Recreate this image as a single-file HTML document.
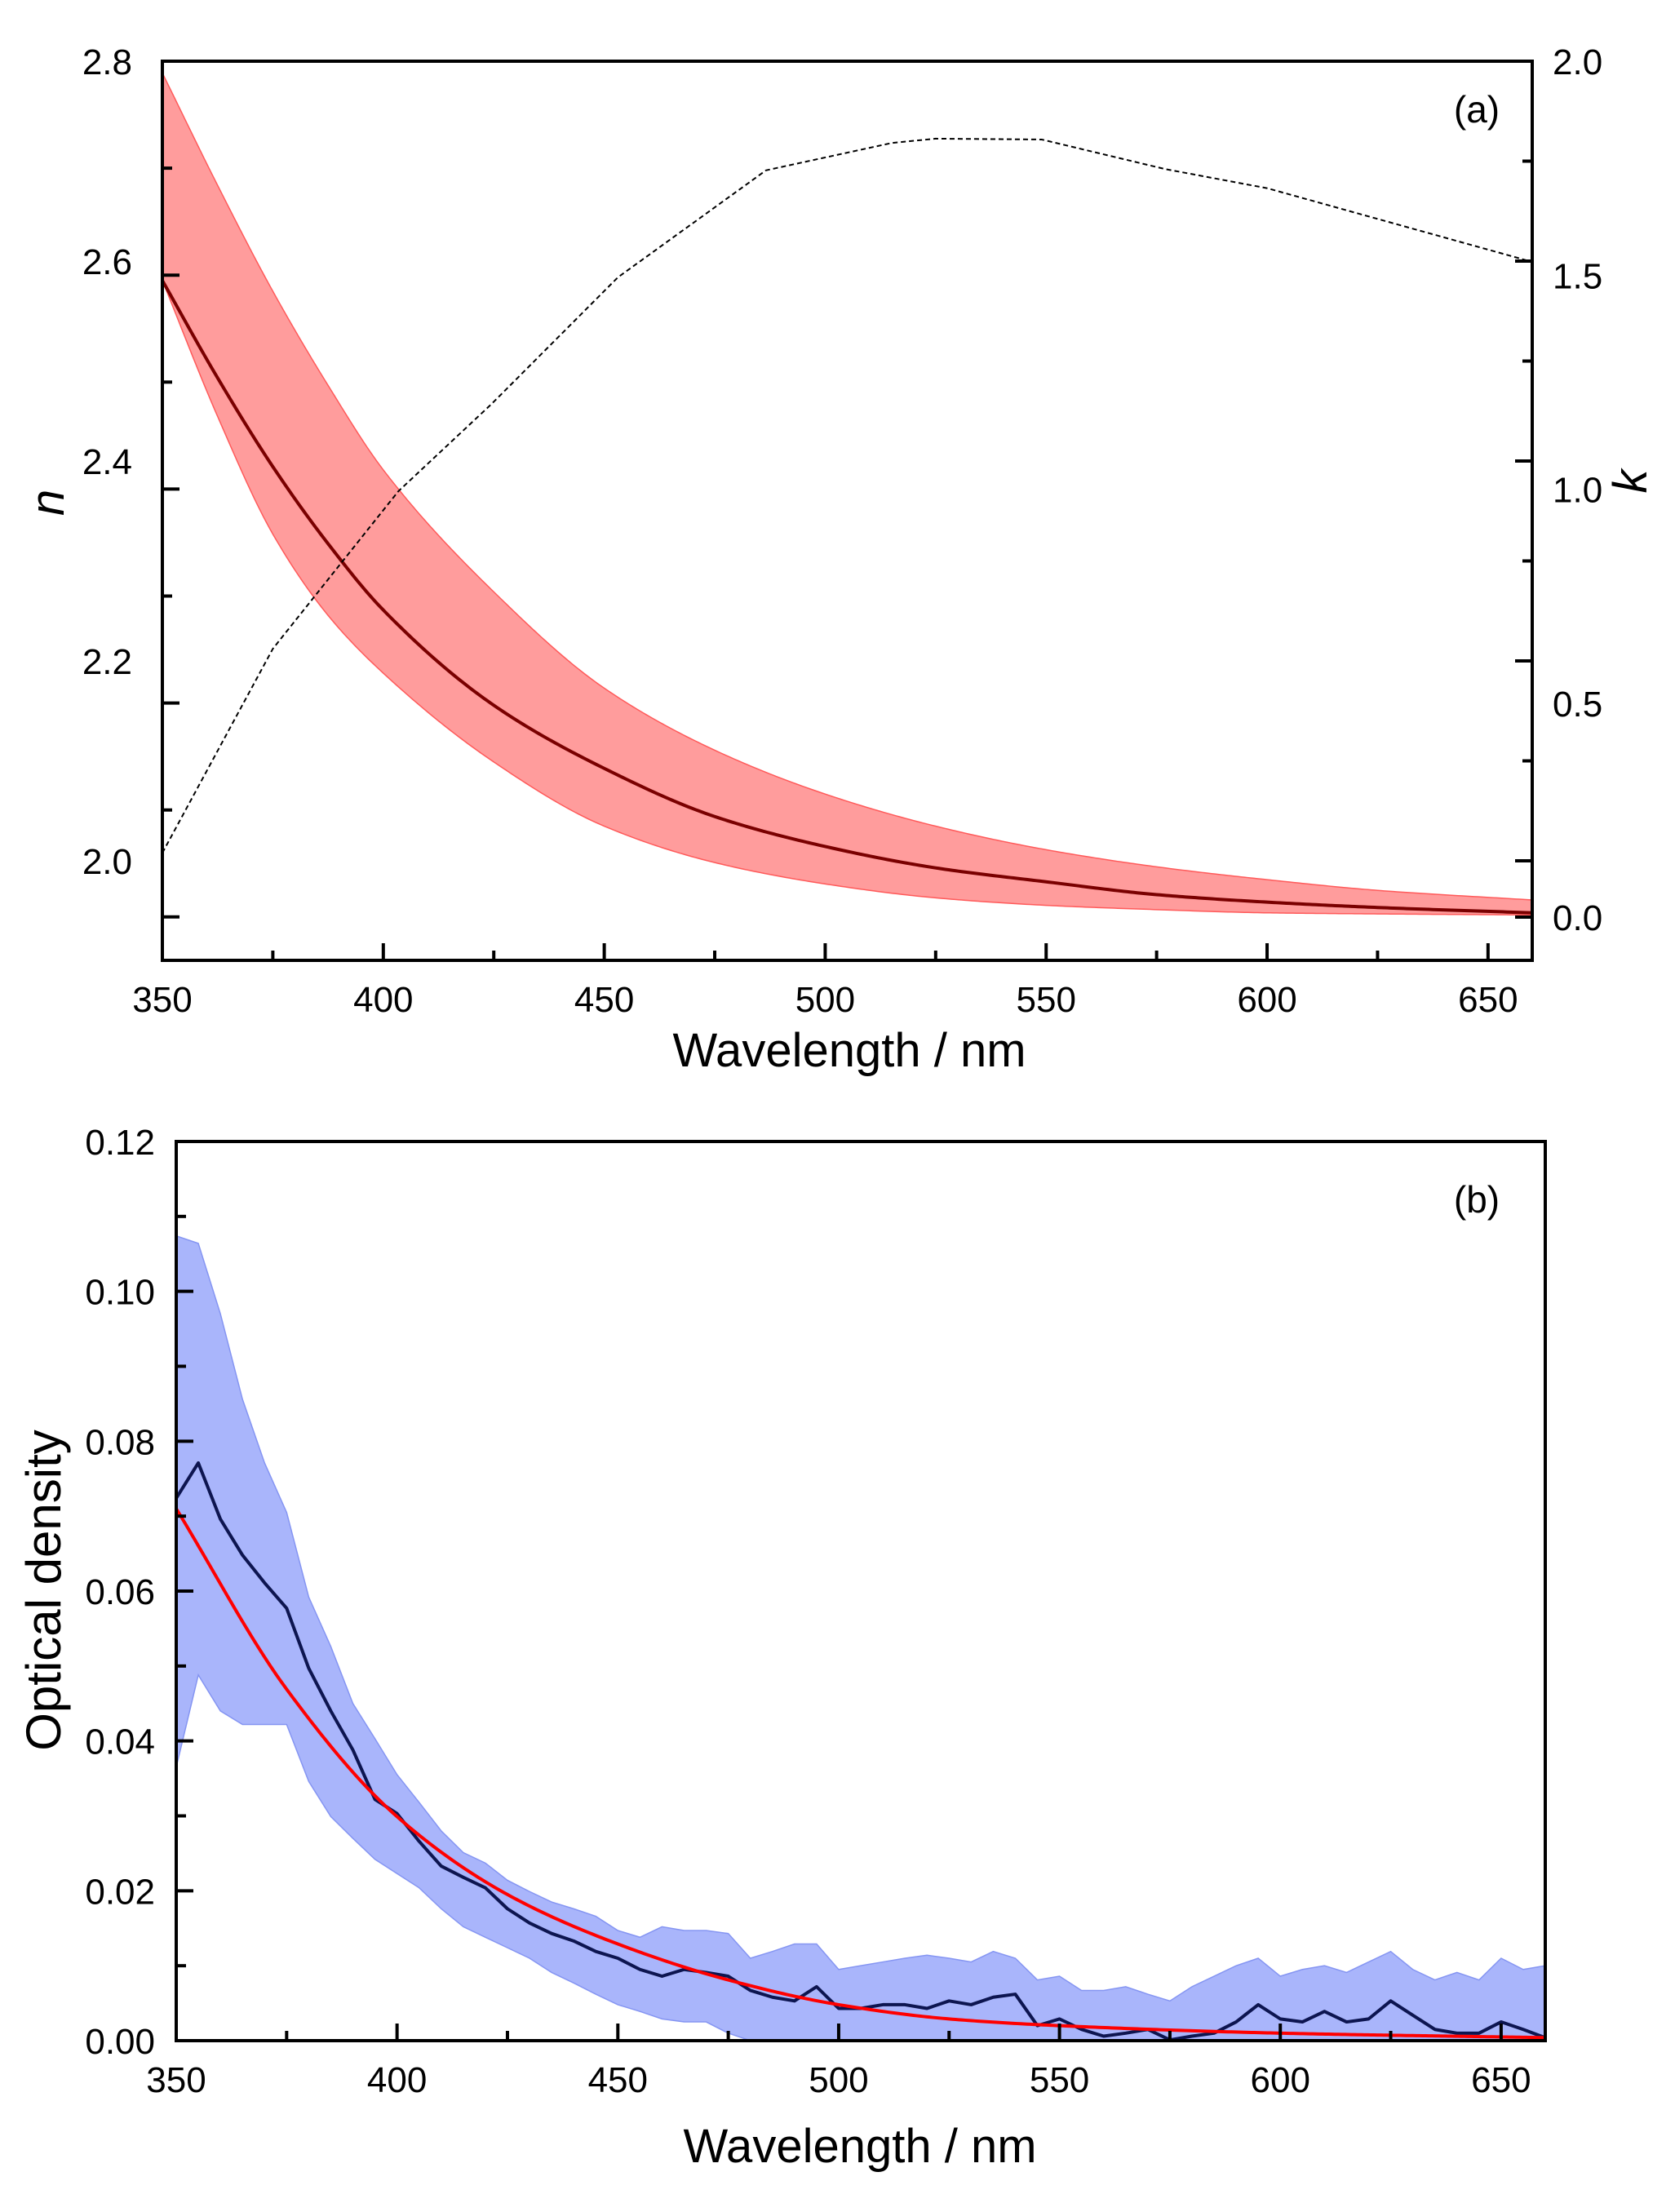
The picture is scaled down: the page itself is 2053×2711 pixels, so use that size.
<!DOCTYPE html>
<html><head><meta charset="utf-8">
<style>
html,body{margin:0;padding:0;background:#fff;}
svg{display:block;}
text{font-family:"Liberation Sans",Arial,sans-serif;fill:#000;}
</style></head>
<body>
<svg id="fig" width="2053" height="2711" viewBox="0 0 2053 2711" xmlns="http://www.w3.org/2000/svg">
<g id="panelA"></g>
<g id="panelB"></g>
</svg>
<script>
// ---------- Panel (a) data ----------
const aWl = [350,362.5,375,387.5,400,425,450,475,500,525,550,575,600,625,660];
const nCenter = [2.595,2.504,2.421,2.349,2.287,2.198,2.139,2.094,2.066,2.046,2.033,2.021,2.014,2.009,2.004];
const nUpper  = [2.789,2.684,2.585,2.497,2.418,2.304,2.214,2.156,2.115,2.085,2.063,2.047,2.035,2.025,2.016];
const nLower  = [2.595,2.468,2.358,2.282,2.228,2.145,2.085,2.051,2.031,2.018,2.011,2.007,2.004,2.003,2.002];
const kWl = [350,375,403.4,424.5,453.1,486.6,515.1,525,549,576.9,600.1,660];
const kVals = [0.150,0.627,0.995,1.199,1.495,1.745,1.809,1.819,1.817,1.748,1.703,1.531];
const xTickLabels = ["350","400","450","500","550","600","650"];
const nTickLabels = ["2.8","2.6","2.4","2.2","2.0"];
const kTickLabels = ["2.0","1.5","1.0","0.5","0.0"];
// ---------- Panel (b) data ----------
const bWl = [350,355,360,365,370,375,380,385,390,395,400,405,410,415,420,425,430,435,440,445,450,455,460,465,470,475,480,485,490,495,500,505,510,515,520,525,530,535,540,545,550,555,560,565,570,575,580,585,590,595,600,605,610,615,620,625,630,635,640,645,650,655,660];
const odMeasured = [0.0724,0.0771,0.0696,0.0648,0.0611,0.0577,0.0497,0.0440,0.0388,0.0322,0.0303,0.0266,0.0233,0.0218,0.0204,0.0176,0.0157,0.0143,0.0133,0.0119,0.0110,0.0095,0.0086,0.0095,0.0091,0.0086,0.0067,0.0058,0.0053,0.0072,0.0043,0.0043,0.0048,0.0048,0.0043,0.0053,0.0048,0.0058,0.0062,0.0020,0.0029,0.0015,0.0006,0.0010,0.0015,0.0001,0.0006,0.0010,0.0025,0.0048,0.0029,0.0025,0.0039,0.0025,0.0029,0.0053,0.0034,0.0015,0.0010,0.0010,0.0025,0.0015,0.0004];
const odUpper = [0.1074,0.1064,0.0970,0.0856,0.0771,0.0705,0.0592,0.0526,0.0450,0.0403,0.0355,0.0318,0.0280,0.0251,0.0237,0.0214,0.0199,0.0185,0.0176,0.0166,0.0147,0.0138,0.0152,0.0147,0.0147,0.0143,0.0110,0.0119,0.0129,0.0129,0.0095,0.0100,0.0105,0.0110,0.0114,0.0110,0.0105,0.0119,0.0110,0.0081,0.0086,0.0067,0.0067,0.0072,0.0062,0.0053,0.0072,0.0086,0.0100,0.0110,0.0086,0.0095,0.0100,0.0091,0.0105,0.0119,0.0095,0.0081,0.0091,0.0081,0.0110,0.0095,0.0100];
const odLower = [0.0365,0.0488,0.0440,0.0422,0.0422,0.0422,0.0346,0.0299,0.0270,0.0242,0.0223,0.0204,0.0176,0.0152,0.0138,0.0124,0.0110,0.0091,0.0077,0.0062,0.0048,0.0039,0.0029,0.0025,0.0025,0.0010,0,0,0,0,0,0,0,0,0,0,0,0,0,0,0,0,0,0,0,0,0,0,0,0,0,0,0,0,0,0,0,0,0,0,0,0,0];
const fitWl = [350,375,400,425,450,475,500,525,550,600,660];
const odFit = [0.0710,0.0469,0.0299,0.0195,0.0129,0.0081,0.0048,0.0029,0.0020,0.0010,0.0004];
const odTickLabels = ["0.00","0.02","0.04","0.06","0.08","0.10","0.12"];

const NS="http://www.w3.org/2000/svg";
function mk(parent,tag,attrs,txt){const e=document.createElementNS(NS,tag);for(const k in attrs)e.setAttribute(k,attrs[k]);if(txt!==undefined)e.textContent=txt;parent.appendChild(e);return e;}
function lin(d0,d1,r0,r1){return v=>r0+(v-d0)/(d1-d0)*(r1-r0);}
function monoPts(pts){
  const n=pts.length,xs=pts.map(p=>p[0]),ys=pts.map(p=>p[1]);
  const d=[],m=[];
  for(let i=0;i<n-1;i++)d.push((ys[i+1]-ys[i])/(xs[i+1]-xs[i]));
  m[0]=d[0];m[n-1]=d[n-2];
  for(let i=1;i<n-1;i++){
    if(d[i-1]*d[i]<=0)m[i]=0;
    else{const h0=xs[i]-xs[i-1],h1=xs[i+1]-xs[i];const w1=2*h1+h0,w2=h1+2*h0;m[i]=(w1+w2)/(w1/d[i-1]+w2/d[i]);}
  }
  const out=[];
  for(let i=0;i<n-1;i++){
    const h=xs[i+1]-xs[i];const steps=Math.max(4,Math.ceil(h/4));
    for(let s=0;s<steps;s++){const t=s/steps,t2=t*t,t3=t2*t;
      const y=(2*t3-3*t2+1)*ys[i]+(t3-2*t2+t)*h*m[i]+(-2*t3+3*t2)*ys[i+1]+(t3-t2)*h*m[i+1];
      out.push([xs[i]+t*h,y]);}
  }
  out.push([xs[n-1],ys[n-1]]);
  return out;
}
function poly(pts){return "M"+pts.map(p=>p[0].toFixed(2)+","+p[1].toFixed(2)).join(" L");}

// ================= Panel A =================
(function(){
const g=document.getElementById('panelA');
const L=199,R=1878,T=75,B=1177;
const xA=lin(350,660,L,R);
const yN=lin(2.0,2.8,1124,75);
const yK=lin(0,2.0,1124,75);
const clip=mk(g,'clipPath',{id:'clipA'});mk(clip,'rect',{x:L,y:T,width:R-L,height:B-T});
const data=mk(g,'g',{'clip-path':'url(#clipA)'});
const up=monoPts(aWl.map((w,i)=>[xA(w),yN(nUpper[i])]));
const lo=monoPts(aWl.map((w,i)=>[xA(w),yN(nLower[i])])).reverse();
const band=mk(data,'path',{d:poly(up.concat(lo))+" Z",fill:'#ff9c9c',stroke:'#ff5a5a','stroke-width':1.5});


const cl=mk(data,'path',{d:poly(monoPts(aWl.map((w,i)=>[xA(w),yN(nCenter[i])]))),fill:'none',stroke:'#7a0000','stroke-width':4});


const kl=mk(data,'path',{d:poly(kWl.map((w,i)=>[xA(w),yK(kVals[i])])),fill:'none',stroke:'#000','stroke-width':2,'stroke-dasharray':'6,4'});


const fr=mk(g,'rect',{x:L,y:T,width:R-L,height:B-T,fill:'none',stroke:'#000','stroke-width':4});


for(let w=350;w<=660;w+=25){const maj=(w%50===0);mk(g,'line',{x1:xA(w),x2:xA(w),y1:B,y2:B-(maj?21:12),stroke:'#000','stroke-width':4});}
xTickLabels.forEach(s=>{const t=mk(g,'text',{x:xA(+s),y:1240,'font-size':44,'text-anchor':'middle'},s);

});
for(let i=1;i<=8;i++){const y=75+i*131.1;const maj=(i%2===0);mk(g,'line',{x1:L,x2:L+(maj?21:12),y1:y,y2:y,stroke:'#000','stroke-width':4});}
nTickLabels.forEach((s,i)=>{const t=mk(g,'text',{x:162,y:75+i*245+16,'font-size':44,'text-anchor':'end'},s);

});
for(let i=1;i<=8;i++){const y=75+i*122.5;const maj=(i%2===0);mk(g,'line',{x1:R,x2:R-(maj?21:12),y1:y,y2:y,stroke:'#000','stroke-width':4});}
mk(g,'line',{x1:R,x2:R-21,y1:1124,y2:1124,stroke:'#000','stroke-width':4});
kTickLabels.forEach((s,i)=>{const t=mk(g,'text',{x:1903,y:75+i*262.3+16,'font-size':44,'text-anchor':'start'},s);

});
const xt=mk(g,'text',{x:1041,y:1307,'font-size':58,'text-anchor':'middle'},'Wavelength / nm');


const nt=mk(g,'text',{x:78,y:616,'font-size':58,'font-style':'italic','text-anchor':'middle',transform:'rotate(-90 78 616)'},'n');


const kt=mk(g,'text',{x:2018,y:590,'font-size':58,'font-style':'italic','text-anchor':'middle',transform:'rotate(-90 2018 590)'},'k');


const pl=mk(g,'text',{x:1810,y:150,'font-size':46,'text-anchor':'middle'},'(a)');


})();

// ================= Panel B =================
(function(){
const g=document.getElementById('panelB');
const L=216,R=1894,T=1399,B=2501;
const xB=lin(350,660,L,R);
const yB=lin(0,0.12,B,T);
const clip=mk(g,'clipPath',{id:'clipB'});mk(clip,'rect',{x:L,y:T,width:R-L,height:B-T});
const data=mk(g,'g',{'clip-path':'url(#clipB)'});
const up=bWl.map((w,i)=>[xB(w),yB(odUpper[i])]);
const lo=bWl.map((w,i)=>[xB(w),yB(odLower[i])]).reverse();
const band=mk(data,'path',{d:poly(up.concat(lo))+" Z",fill:'#a9b5fb',stroke:'#8595f2','stroke-width':1.5});


const ml=mk(data,'path',{d:poly(bWl.map((w,i)=>[xB(w),yB(odMeasured[i])])),fill:'none',stroke:'#0d1550','stroke-width':4,'stroke-linejoin':'round'});


const fl=mk(data,'path',{d:poly(monoPts(fitWl.map((w,i)=>[xB(w),yB(odFit[i])]))),fill:'none',stroke:'#ff0000','stroke-width':4});


const fr=mk(g,'rect',{x:L,y:T,width:R-L,height:B-T,fill:'none',stroke:'#000','stroke-width':4});


for(let w=350;w<=660;w+=25){const maj=(w%50===0);mk(g,'line',{x1:xB(w),x2:xB(w),y1:B,y2:B-(maj?21:12),stroke:'#000','stroke-width':4});}
xTickLabels.forEach(s=>{const t=mk(g,'text',{x:xB(+s),y:2564,'font-size':44,'text-anchor':'middle'},s);

});
for(let v=0.01;v<0.12;v+=0.01){const maj=(Math.round(v*100)%2===0);mk(g,'line',{x1:L,x2:L+(maj?21:12),y1:yB(v),y2:yB(v),stroke:'#000','stroke-width':4});}
odTickLabels.forEach(s=>{const t=mk(g,'text',{x:190,y:yB(+s)+16,'font-size':44,'text-anchor':'end'},s);

});
const xt=mk(g,'text',{x:1054,y:2650,'font-size':58,'text-anchor':'middle'},'Wavelength / nm');


const yt=mk(g,'text',{x:74,y:1949,'font-size':60,'text-anchor':'middle',transform:'rotate(-90 74 1949)'},'Optical density');


const pl=mk(g,'text',{x:1810,y:1486,'font-size':46,'text-anchor':'middle'},'(b)');


})();
</script>
</body></html>
